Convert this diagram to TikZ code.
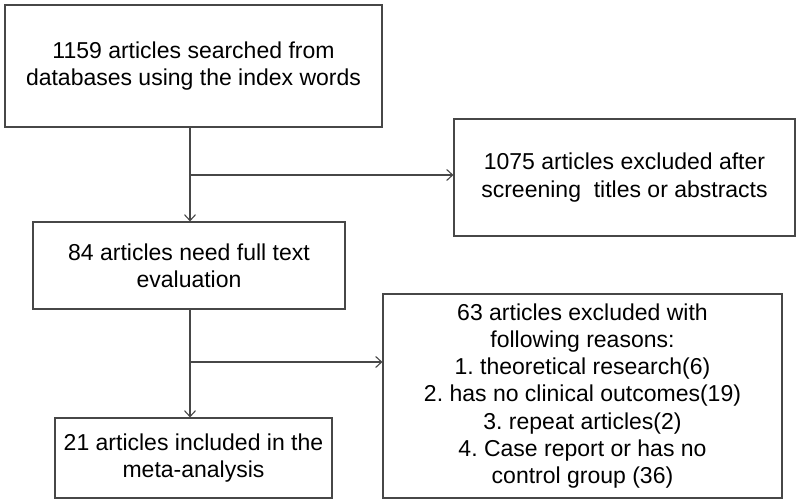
\documentclass[tikz,border=0pt]{standalone}
\usepackage{fontspec}
\setmainfont{Liberation Sans}
\usetikzlibrary{arrows.meta}
\frenchspacing

\begin{document}
\begin{tikzpicture}[x=1pt,y=-1pt,
            box/.style={draw=black!72,line width=1.1pt,align=center,inner sep=0pt,font=\fontsize{23}{27.3}\selectfont},
            link/.style={draw=black!72,line width=1.1pt},
            arr/.style={link,-{Straight Barb[length=6pt,width=11pt,line width=1.1pt]}}]
            \useasboundingbox (0,0) rectangle (800,503);
            \node[box,minimum width=377pt,minimum height=122pt] (search) at (193.5,66){1159 articles searched from\\databases using the index words};
            \node[box,minimum width=341pt,minimum height=117pt] (screen) at (624.5,177.5){1075 articles excluded after\\screening~ titles or abstracts};
            \node[box,minimum width=312pt,minimum height=87pt] (fulltext) at (189,265.5){84 articles need full text\\evaluation};
            \node[box,minimum width=399pt,minimum height=204pt] (reasons) at (582.5,396){63 articles excluded with\\following reasons:\\1. theoretical research(6)\\2. has no clinical outcomes(19)\\3. repeat articles(2)\\4. Case report or has no\\control group (36)};
            \node[box,minimum width=277pt,minimum height=80pt] (included) at (193.5,458){21 articles included in the\\meta-analysis};
            \coordinate (split1) at (190,175);
            \coordinate (split2) at (190,362);
            \draw[arr](split1 |- search.south) -- (split1 |- fulltext.north);
            \draw[arr](split1) -- (split1 -| screen.west);
            \draw[arr](split2 |- fulltext.south) -- (split2 |- included.north);
            \draw[arr](split2) -- (split2 -| reasons.west);
        \end{tikzpicture}
\end{document}
